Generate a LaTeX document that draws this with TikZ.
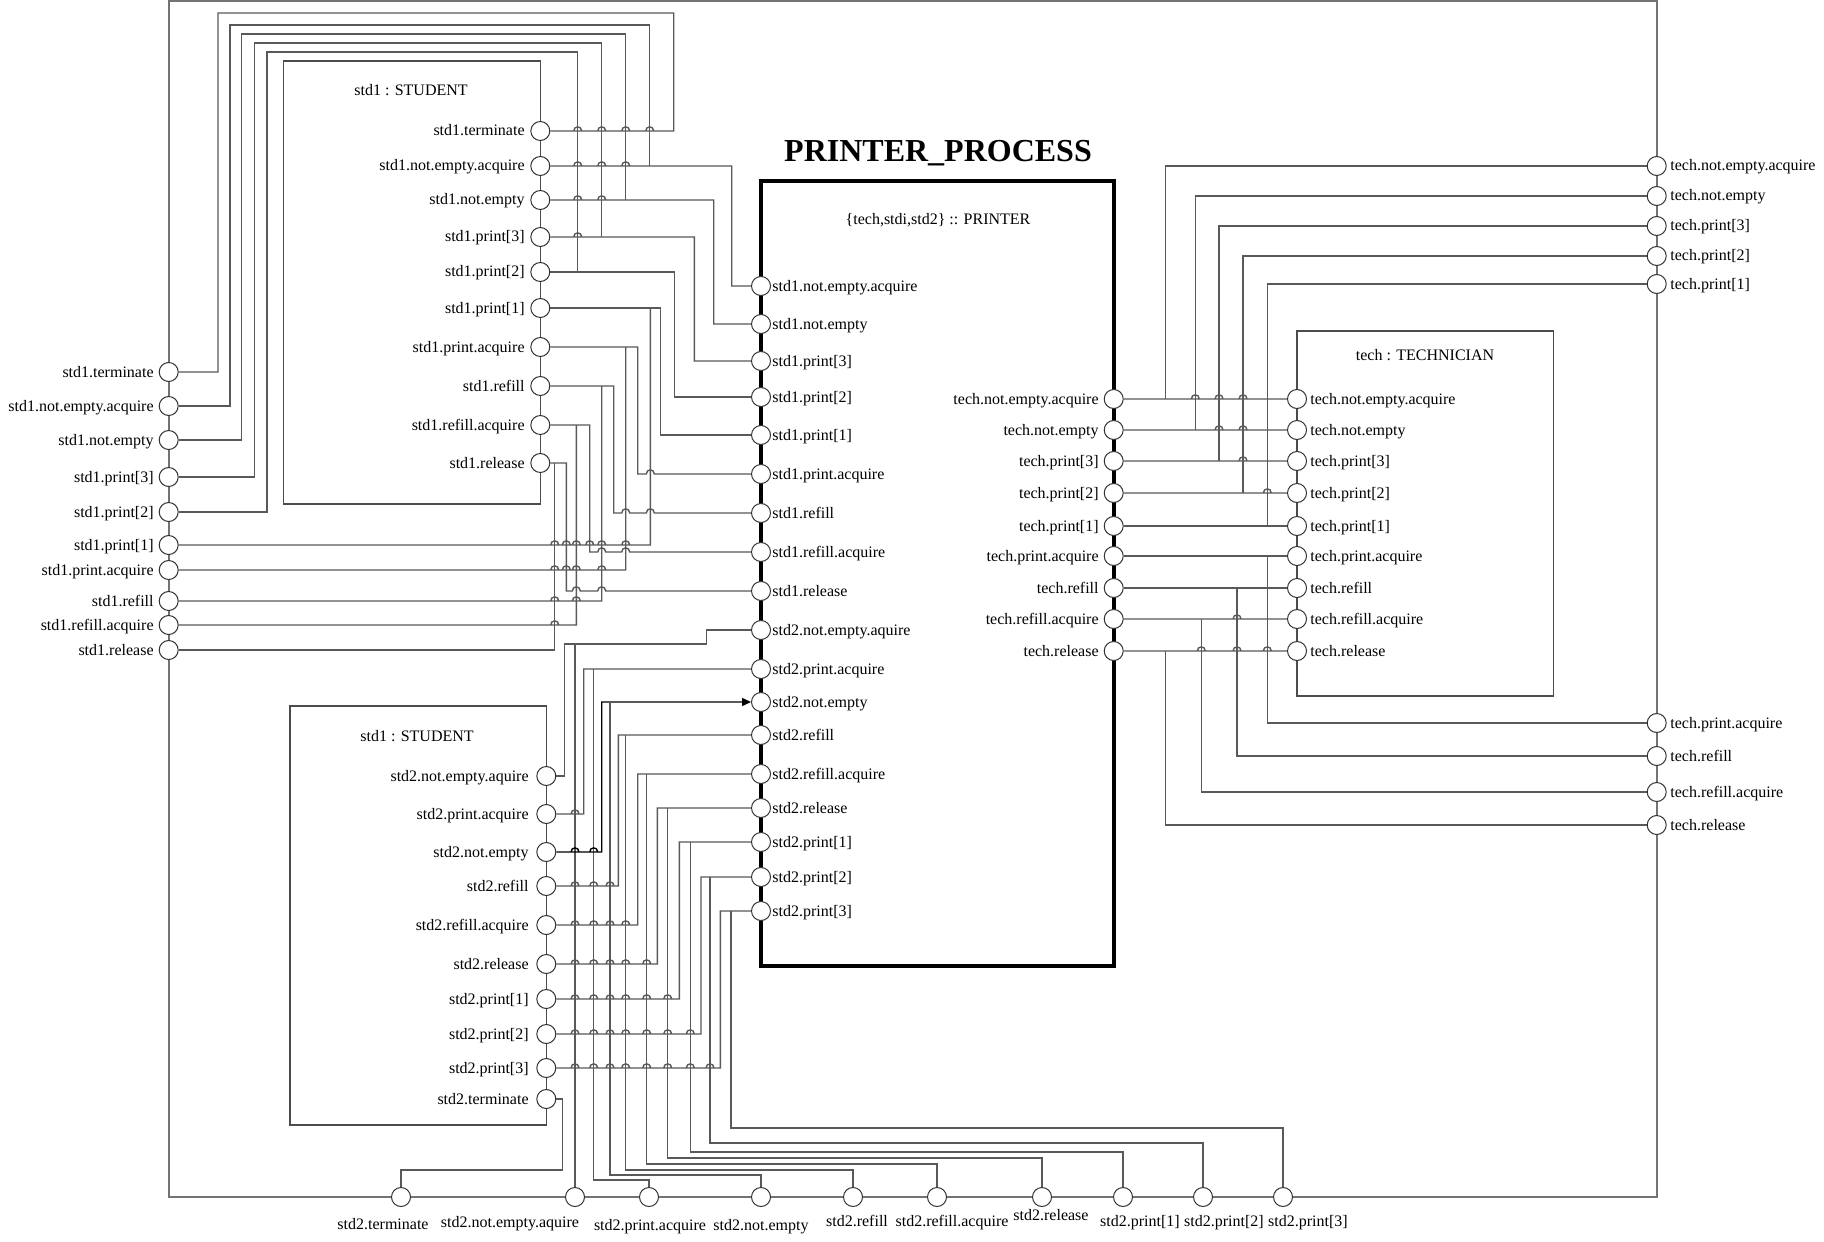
\documentclass[tikz,border=0pt]{standalone}
\usepackage{fontspec}
\setmainfont{Liberation Serif}
\usetikzlibrary{arrows.meta}
\pgfdeclarelayer{bg}
\pgfsetlayers{bg,main}
\begin{document}
\begin{tikzpicture}[x=0.5pt,y=-0.5pt,
 port/.style={circle, draw=black!80, fill=white, line width=0.5pt, minimum size=9.5pt, inner sep=0pt},
 lbl/.style={inner sep=0pt, font=\fontsize{8}{9}\selectfont, text height=5.5pt, text depth=0.5pt},
 wire/.style={draw=black!65, line width=0.7pt},
 frame/.style={draw=black!55, line width=0.9pt},
 box/.style={draw=black!70, line width=0.7pt},
 pbox/.style={draw=black, line width=2pt}]
\useasboundingbox (0,0) rectangle (1824,1241);

% ---------- titles ----------
\node[anchor=base, inner sep=0pt, font=\bfseries\fontsize{16}{18}\selectfont] (title) at (938,161.5) {PRINTER\_PROCESS};
\node[lbl] (tprn) at (938,220) {\{tech,stdi,std2\} :: PRINTER};
\node[lbl] (tstd1) at (411,91) {std1 : STUDENT};
\node[lbl] (tstd2) at (417,736) {std1 : STUDENT};
\node[lbl] (ttech) at (1425,355) {tech : TECHNICIAN};

% ---------- left frame ports ----------
\foreach \n/\y/\t in {1/372/std1.terminate,2/406/std1.not.empty.acquire,3/440/std1.not.empty,4/477/std1.print[3],5/512/std1.print[2],6/545/std1.print[1],7/570/std1.print.acquire,8/601/std1.refill,9/625/std1.refill.acquire,10/650/std1.release}{
 \node[port] (fL\n) at (168.7,\y) {};
 \node[lbl,anchor=east] (fLt\n) at (154,\y) {\t};
}
% ---------- std1 box ports ----------
\foreach \n/\y/\t in {1/131/std1.terminate,2/166/std1.not.empty.acquire,3/200/std1.not.empty,4/237/std1.print[3],5/272/std1.print[2],6/308/std1.print[1],7/347/std1.print.acquire,8/386/std1.refill,9/425/std1.refill.acquire,10/463/std1.release}{
 \node[port] (a\n) at (540.3,\y) {};
 \node[lbl,anchor=east] (at\n) at (525,\y) {\t};
}
% ---------- printer left ports ----------
\foreach \n/\y/\t in {1/286/std1.not.empty.acquire,2/324/std1.not.empty,3/361/std1.print[3],4/397/std1.print[2],5/435/std1.print[1],6/474/std1.print.acquire,7/513/std1.refill,8/552/std1.refill.acquire,9/591/std1.release,10/630/std2.not.empty.aquire,11/669/std2.print.acquire,12/702/std2.not.empty,13/735/std2.refill,14/774/std2.refill.acquire,15/808/std2.release,16/842/std2.print[1],17/877/std2.print[2],18/911/std2.print[3]}{
 \node[port] (p\n) at (761,\y) {};
 \node[lbl,anchor=west] (pt\n) at (772,\y) {\t};
}
% ---------- printer right ports and technician ports ----------
\foreach \n/\y/\t in {1/399/tech.not.empty.acquire,2/430/tech.not.empty,3/461/tech.print[3],4/493/tech.print[2],5/526/tech.print[1],6/556/tech.print.acquire,7/588/tech.refill,8/619/tech.refill.acquire,9/651/tech.release}{
 \node[port] (q\n) at (1113.7,\y) {};
 \node[lbl,anchor=east] (qt\n) at (1099,\y) {\t};
 \node[port] (t\n) at (1297,\y) {};
 \node[lbl,anchor=west] (tt\n) at (1310,\y) {\t};
}
% ---------- right frame ports ----------
\foreach \n/\y/\t in {1/166/tech.not.empty.acquire,2/196/tech.not.empty,3/226/tech.print[3],4/256/tech.print[2],5/284/tech.print[1],6/723/tech.print.acquire,7/756/tech.refill,8/792/tech.refill.acquire,9/825/tech.release}{
 \node[port] (fR\n) at (1656.7,\y) {};
 \node[lbl,anchor=west] (fRt\n) at (1670,\y) {\t};
}
% ---------- std2 box ports ----------
\foreach \n/\y/\t in {1/776/std2.not.empty.aquire,2/814/std2.print.acquire,3/852/std2.not.empty,4/886/std2.refill,5/925/std2.refill.acquire,6/964/std2.release,7/999/std2.print[1],8/1034/std2.print[2],9/1068/std2.print[3],10/1099/std2.terminate}{
 \node[port] (b\n) at (546.3,\y) {};
 \node[lbl,anchor=east] (bt\n) at (529,\y) {\t};
}
% ---------- bottom frame ports ----------
\foreach \n/\x/\lx/\ly/\t in {0/401/383/1224/std2.terminate,1/575/510/1222/std2.not.empty.aquire,2/649/650/1225/std2.print.acquire,3/761/761/1225/std2.not.empty,4/853/857/1221/std2.refill,5/937/952/1221/std2.refill.acquire,6/1042/1051/1215/std2.release,7/1123/1140/1221/std2.print[1],8/1203/1224/1221/std2.print[2],9/1283/1308/1221/std2.print[3]}{
 \node[port] (fB\n) at (\x,1197) {};
 \node[lbl] (fBt\n) at (\lx,\ly) {\t};
}

% ---------- junction coordinates ----------
\coordinate (j2) at (649.7,166);
\coordinate (j3) at (625.7,200);
\coordinate (j4) at (601.7,237);
\coordinate (j5) at (577.7,272);
\coordinate (j6) at (650.3,308);
\coordinate (j7) at (625.7,347);
\coordinate (j8) at (601.7,386);
\coordinate (j9) at (576.3,425);
\coordinate (j10) at (554.7,463);
\coordinate (jb1) at (575,644);
\coordinate (jb2) at (593.7,669);
\coordinate (jb3) at (610,702);
\coordinate (jb4) at (625.7,735);
\coordinate (jb5) at (646.7,774);
\coordinate (jb6) at (667.7,808);
\coordinate (jb7) at (690.3,842);
\coordinate (jb8) at (710,877);
\coordinate (jb9) at (731,911);
\coordinate (jt1) at (1165.3,399);
\coordinate (jt2) at (1195.3,430);
\coordinate (jt3) at (1219,461);
\coordinate (jt4) at (1243,493);
\coordinate (jt5) at (1267.3,526);
\coordinate (jt6) at (1267.3,556);
\coordinate (jt7) at (1237,588);
\coordinate (jt8) at (1201.3,619);
\coordinate (jt9) at (1165.3,651);

\begin{pgfonlayer}{bg}
\fill[white] (0,0) rectangle (1824,1241);
\draw[frame] (168.7,1) rectangle (1656.7,1197);
\draw[box] (283.7,61) rectangle (540.3,504);
\draw[box] (290,706) rectangle (546.3,1125);
\draw[box] (1297,331) rectangle (1553.3,696);

% ----- std1 wires -----
\draw[wire] (a1) foreach \j in {577.7,601.7,625.7,649.7}{ -- (\j-4,131) .. controls (\j-4,125.5) and (\j+4,125.5) .. (\j+4,131)} -- (673.7,131) -- (673.7,13) -- (218,13) |- (fL1);
\draw[wire] (a2) foreach \j in {577.7,601.7,625.7}{ -- (\j-4,166) .. controls (\j-4,160.5) and (\j+4,160.5) .. (\j+4,166)} -- (731.7,166) |- (p1);
\draw[wire] (fL2) -| (230,25) -- (649.7,25) -- (j2);
\draw[wire] (a3) foreach \j in {577.7,601.7}{ -- (\j-4,200) .. controls (\j-4,194.5) and (\j+4,194.5) .. (\j+4,200)} -- (713.7,200) |- (p2);
\draw[wire] (fL3) -| (241.7,34) -- (625.7,34) -- (j3);
\draw[wire] (a4) foreach \j in {577.7}{ -- (\j-4,237) .. controls (\j-4,231.5) and (\j+4,231.5) .. (\j+4,237)} -- (694.3,237) |- (p3);
\draw[wire] (fL4) -| (254.3,43) -- (601.7,43) -- (j4);
\draw[wire] (a5) -- (674.3,272) |- (p4);
\draw[wire] (fL5) -| (267,52) -- (577.7,52) -- (j5);
\draw[wire] (a6) -- (660.7,308) |- (p5);
\draw[wire] (fL6) foreach \j in {554.7,566.3,576.3,589.7,601.7,625.7}{ -- (\j-4,545) .. controls (\j-4,539.5) and (\j+4,539.5) .. (\j+4,545)} -- (650.3,545) -- (j6);
\draw[wire] (a7) -- (637.7,347) -- (637.7,474) foreach \j in {650.3}{ -- (\j-4,474) .. controls (\j-4,468.5) and (\j+4,468.5) .. (\j+4,474)} -- (p6);
\draw[wire] (fL7) foreach \j in {554.7,566.3,576.3,601.7}{ -- (\j-4,570) .. controls (\j-4,564.5) and (\j+4,564.5) .. (\j+4,570)} -- (625.7,570) -- (j7);
\draw[wire] (a8) -- (613.7,386) -- (613.7,513) foreach \j in {625.7,650.3}{ -- (\j-4,513) .. controls (\j-4,507.5) and (\j+4,507.5) .. (\j+4,513)} -- (p7);
\draw[wire] (fL8) foreach \j in {554.7,576.3}{ -- (\j-4,601) .. controls (\j-4,595.5) and (\j+4,595.5) .. (\j+4,601)} -- (601.7,601) -- (j8);
\draw[wire] (a9) -- (589.7,425) -- (589.7,552) foreach \j in {601.7,625.7}{ -- (\j-4,552) .. controls (\j-4,546.5) and (\j+4,546.5) .. (\j+4,552)} -- (p8);
\draw[wire] (fL9) foreach \j in {554.7}{ -- (\j-4,625) .. controls (\j-4,619.5) and (\j+4,619.5) .. (\j+4,625)} -- (576.3,625) -- (j9);
\draw[wire] (a10) -- (566.3,463) -- (566.3,591) foreach \j in {576.3,601.7}{ -- (\j-4,591) .. controls (\j-4,585.5) and (\j+4,585.5) .. (\j+4,591)} -- (p9);
\draw[wire] (fL10) -- (554.7,650) -- (j10);

% ----- std2 wires -----
\draw[wire] (b1) -- (564.3,776) -- (564.3,644) -- (706.7,644) -- (706.7,630) -- (p10);
\draw[wire] (fB1) -- (jb1);
\draw[wire] (b2) foreach \j in {575}{ -- (\j-4,814) .. controls (\j-4,808.5) and (\j+4,808.5) .. (\j+4,814)} -- (583.7,814) |- (p11);
\draw[wire] (fB2) |- (593.7,1180) -- (jb2);
\draw[wire,draw=black,-{Triangle[length=4.5pt,width=4pt]}] (b3) foreach \j in {575,593.7}{ -- (\j-4,852) .. controls (\j-4,846.5) and (\j+4,846.5) .. (\j+4,852)} -- (601.7,852) |- (p12);
\draw[wire] (fB3) |- (610,1175) -- (jb3);
\draw[wire] (b4) foreach \j in {575,593.7,610}{ -- (\j-4,886) .. controls (\j-4,880.5) and (\j+4,880.5) .. (\j+4,886)} -- (618.3,886) |- (p13);
\draw[wire] (fB4) |- (625.7,1170) -- (jb4);
\draw[wire] (b5) foreach \j in {575,593.7,610,625.7}{ -- (\j-4,925) .. controls (\j-4,919.5) and (\j+4,919.5) .. (\j+4,925)} -- (637.7,925) |- (p14);
\draw[wire] (fB5) |- (646.7,1164) -- (jb5);
\draw[wire] (b6) foreach \j in {575,593.7,610,625.7,646.7}{ -- (\j-4,964) .. controls (\j-4,958.5) and (\j+4,958.5) .. (\j+4,964)} -- (657.3,964) |- (p15);
\draw[wire] (fB6) |- (667.7,1158) -- (jb6);
\draw[wire] (b7) foreach \j in {575,593.7,610,625.7,646.7,667.7}{ -- (\j-4,999) .. controls (\j-4,993.5) and (\j+4,993.5) .. (\j+4,999)} -- (679.3,999) |- (p16);
\draw[wire] (fB7) |- (690.3,1152) -- (jb7);
\draw[wire] (b8) foreach \j in {575,593.7,610,625.7,646.7,667.7,690.3}{ -- (\j-4,1034) .. controls (\j-4,1028.5) and (\j+4,1028.5) .. (\j+4,1034)} -- (701,1034) |- (p17);
\draw[wire] (fB8) |- (710,1143) -- (jb8);
\draw[wire] (b9) foreach \j in {575,593.7,610,625.7,646.7,667.7,690.3,710}{ -- (\j-4,1068) .. controls (\j-4,1062.5) and (\j+4,1062.5) .. (\j+4,1068)} -- (720.3,1068) |- (p18);
\draw[wire] (fB9) |- (731,1128) -- (jb9);
\draw[wire] (b10) -- (562.7,1099) -- (562.7,1170) -| (fB0);

% ----- technician wires -----
\draw[wire] (q1) foreach \j in {1195.3,1219,1243}{ -- (\j-4,399) .. controls (\j-4,393.5) and (\j+4,393.5) .. (\j+4,399)} -- (t1);
\draw[wire] (fR1) -| (jt1);
\draw[wire] (q2) foreach \j in {1219,1243}{ -- (\j-4,430) .. controls (\j-4,424.5) and (\j+4,424.5) .. (\j+4,430)} -- (t2);
\draw[wire] (fR2) -| (jt2);
\draw[wire] (q3) foreach \j in {1243}{ -- (\j-4,461) .. controls (\j-4,455.5) and (\j+4,455.5) .. (\j+4,461)} -- (t3);
\draw[wire] (fR3) -| (jt3);
\draw[wire] (q4) foreach \j in {1267.3}{ -- (\j-4,493) .. controls (\j-4,487.5) and (\j+4,487.5) .. (\j+4,493)} -- (t4);
\draw[wire] (fR4) -| (jt4);
\draw[wire] (q5) -- (t5);
\draw[wire] (fR5) -| (jt5);
\draw[wire] (q6) -- (t6);
\draw[wire] (fR6) -| (jt6);
\draw[wire] (q7) -- (t7);
\draw[wire] (fR7) -| (jt7);
\draw[wire] (q8) foreach \j in {1237}{ -- (\j-4,619) .. controls (\j-4,613.5) and (\j+4,613.5) .. (\j+4,619)} -- (t8);
\draw[wire] (fR8) -| (jt8);
\draw[wire] (q9) foreach \j in {1201.3,1237,1267.3}{ -- (\j-4,651) .. controls (\j-4,645.5) and (\j+4,645.5) .. (\j+4,651)} -- (t9);
\draw[wire] (fR9) -| (jt9);

\draw[pbox] (761,181) rectangle (1113.7,966);
\end{pgfonlayer}
\end{tikzpicture}
\end{document}
